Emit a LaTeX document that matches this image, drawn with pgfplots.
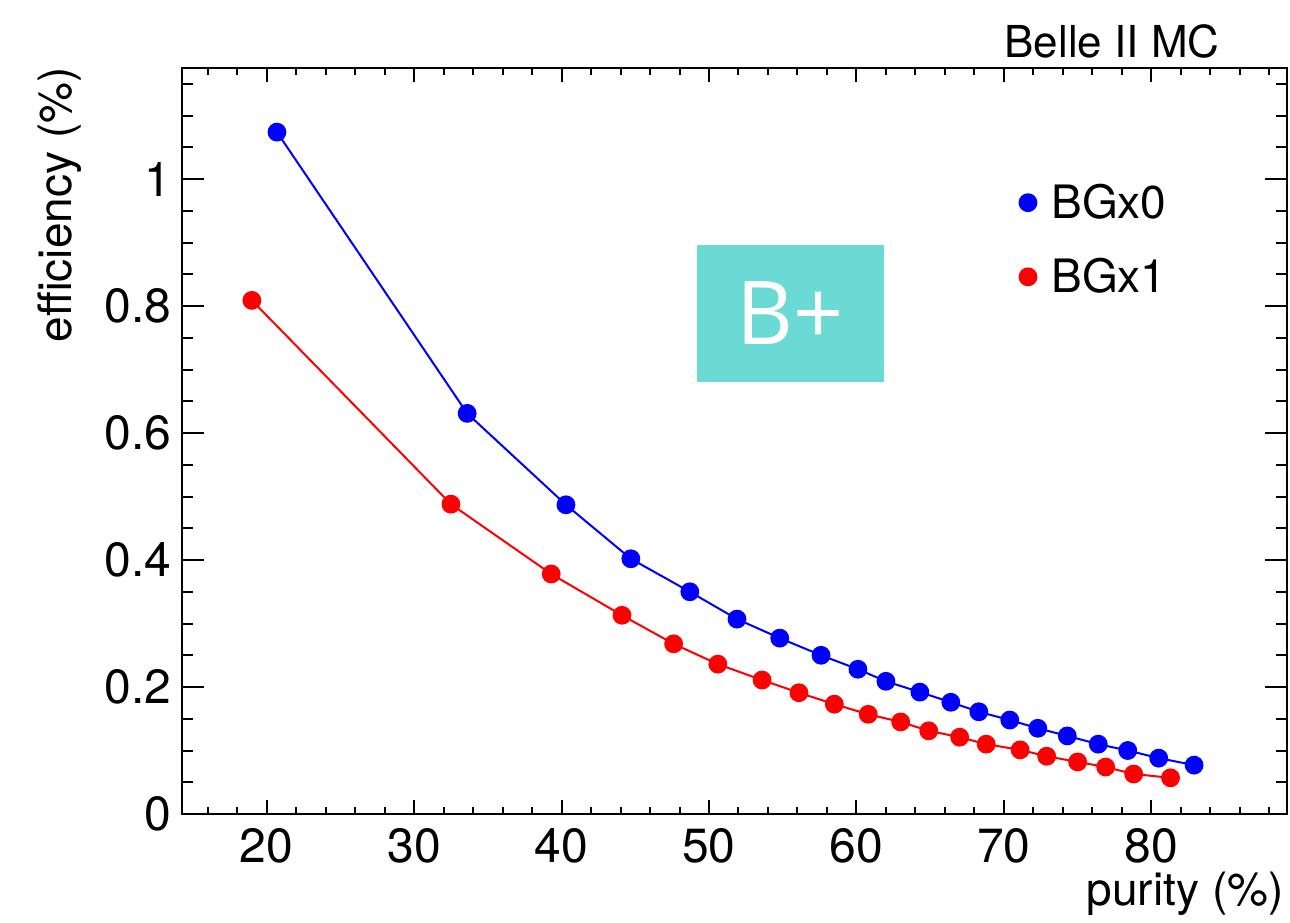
\documentclass[border=0pt]{standalone}
\usepackage{pgfplots}
\pgfplotsset{compat=1.18}
\usetikzlibrary{calc}
\usepackage{fontspec}
\setmainfont{TeX Gyre Heros}
\newfontfamily\bpfont{Open Sans}
\definecolor{boxc}{RGB}{107,218,213}
\definecolor{bblue}{RGB}{0,0,255}
\definecolor{rred}{RGB}{255,0,0}

\pgfplotsset{
  rootframe/.style={
    at={(0,0)}, anchor=south west,
    scale only axis, width=552.5pt, height=373pt,
    xmin=14.26, xmax=89.2, ymin=0, ymax=1.175,
    axis line style={line width=1pt},
    every tick/.style={black, line width=1pt},
    tick align=inside,
    /pgf/number format/assume math mode=true,
    tick label style={font=\fontsize{24}{28}\selectfont},
    clip=false,
  }
}

\begin{document}
\begin{tikzpicture}
\useasboundingbox (-91pt,-54pt) rectangle (554pt,407pt);
% axis with x ticks and data
\begin{axis}[rootframe,
  xtick={20,30,40,50,60,70,80},
  xticklabels={20,30,40,50,60,70,80},
  minor xtick={16,18,...,88},
  xtick pos=both,
  ytick=\empty,
  major tick length=7pt, minor tick length=3.5pt,
  xticklabel style={anchor=north, inner sep=0pt, yshift=-7pt},
  legend style={draw=none, fill=none, inner sep=0pt, outer sep=0pt,
    at={(rel axis cs:0.758,0.8445)}, anchor=north west,
    font=\fontsize{23}{28}\selectfont,
    nodes={inner sep=0pt}, row sep=18.4pt},
  legend cell align=left,
  legend image code/.code={%
    \draw[#1, draw=none, only marks] plot coordinates {(0pt,0pt)};
    \path[draw=none, fill=none] (4.2pt,0pt) -- (11.7pt,0pt);},
]
\addplot[bblue, line width=1pt, mark=*, mark size=4.2pt,
  mark options={solid, fill=bblue, draw=none}] coordinates {
(20.7,1.074) (33.6,0.631) (40.3,0.487) (44.7,0.402) (48.7,0.350)
(51.9,0.307) (54.8,0.277) (57.6,0.250) (60.1,0.228) (62.0,0.209)
(64.3,0.192) (66.4,0.176) (68.3,0.161) (70.4,0.148) (72.3,0.135)
(74.3,0.123) (76.4,0.110) (78.4,0.100) (80.5,0.088) (82.9,0.077)
};
\addlegendentry{BGx0}
\addplot[rred, line width=1pt, mark=*, mark size=4.2pt,
  mark options={solid, fill=rred, draw=none}] coordinates {
(19.0,0.809) (32.5,0.488) (39.3,0.378) (44.1,0.313) (47.6,0.268)
(50.6,0.236) (53.6,0.211) (56.1,0.191) (58.5,0.173) (60.8,0.157)
(63.0,0.145) (64.9,0.131) (67.0,0.121) (68.8,0.110) (71.1,0.101)
(72.9,0.091) (75.0,0.082) (76.9,0.074) (78.8,0.063) (81.3,0.057)
};
\addlegendentry{BGx1}
% B+ box
\node[fill=boxc, inner sep=0pt, minimum width=93.5pt, minimum height=68.5pt,
  text=white, font=\bpfont\fontsize{44}{50}\selectfont]
  at (rel axis cs:0.5507,0.6709) {\raisebox{-4pt}{B+}};
% labels
\node[anchor=base east, inner sep=0pt, font=\fontsize{23}{28}\selectfont]
  at ($(rel axis cs:1,0)+(-1.5pt,-45.5pt)$) {purity (\%)};
\node[rotate=90, anchor=base east, inner sep=0pt, font=\fontsize{23}{28}\selectfont]
  at ($(rel axis cs:0,1)+(-55pt,0.5pt)$) {efficiency (\%)};
\node[anchor=base east, inner sep=0pt, font=\fontsize{22}{26}\selectfont]
  at ($(rel axis cs:1,1)+(-33.5pt,5pt)$) {Belle II MC};
\end{axis}
% axis with y ticks
\begin{axis}[rootframe,
  xtick=\empty,
  ytick={0,0.2,0.4,0.6,0.8,1},
  yticklabels={0,0.2,0.4,0.6,0.8,1},
  minor ytick={0.05,0.1,0.15,0.2,0.25,0.3,0.35,0.4,0.45,0.5,0.55,0.6,0.65,0.7,0.75,0.8,0.85,0.9,0.95,1.0,1.05,1.1,1.15},
  ytick pos=both,
  major tick length=11pt, minor tick length=5.5pt,
  yticklabel style={anchor=east, inner sep=0pt, xshift=-5pt},
]
\end{axis}
\end{tikzpicture}
\end{document}
